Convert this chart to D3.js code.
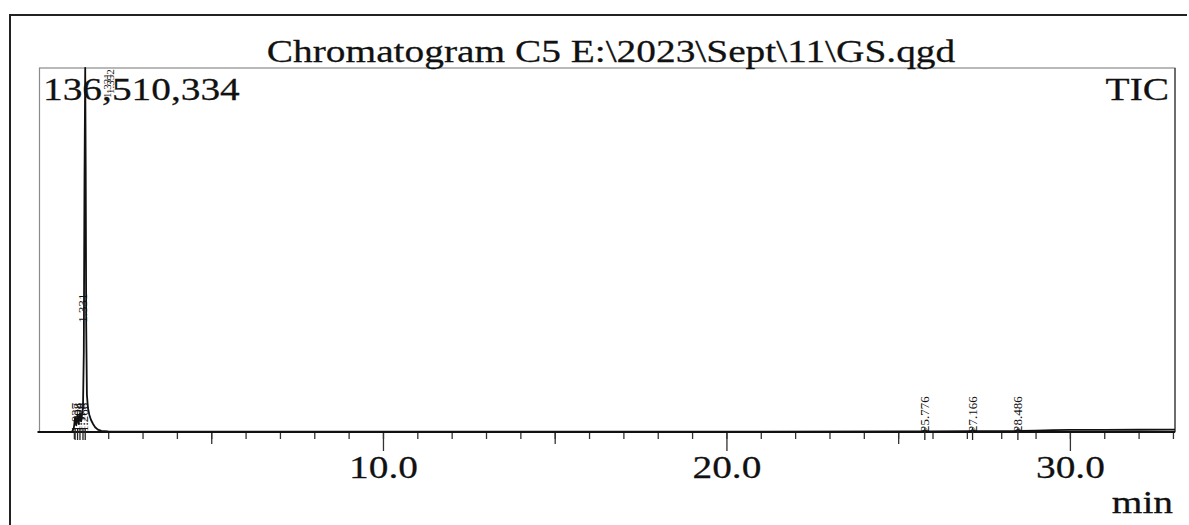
<!DOCTYPE html>
<html>
<head>
<meta charset="utf-8">
<script src="https://cdn.jsdelivr.net/npm/d3@7"></script>
<style>
  html, body { margin: 0; padding: 0; background: #fff; }
  svg { display: block; }
  text { font-family: "Liberation Serif", "Times New Roman", serif; fill: #111; }
</style>
</head>
<body>
<svg id="chart" width="1189" height="525"></svg>
<script>
// Total ion chromatogram, retention time (min) vs. intensity (counts)
const retentionTimes = [
  0.00, 0.95, 1.00, 1.037, 1.07, 1.108, 1.14, 1.178, 1.21, 1.266, 1.29, 1.31,
  1.331, 1.345, 1.36, 1.38, 1.41, 1.45, 1.50, 1.56, 1.62, 1.70, 1.80, 2.00,
  2.50, 5.00, 10.00, 15.00, 20.00, 25.00, 25.70, 25.776, 25.85, 27.10, 27.166,
  27.24, 28.40, 28.486, 28.57, 29.00, 29.50, 30.00, 31.00, 32.00, 33.06
];
const intensities = [
  50000, 100000, 1500000, 5500000, 2500000, 6500000, 3000000, 7000000, 4000000,
  9000000, 30000000, 95000000, 136510334, 100000000, 40000000, 14000000, 9000000,
  6500000, 4500000, 3000000, 1800000, 900000, 400000, 200000, 120000, 100000,
  100000, 100000, 150000, 200000, 250000, 600000, 250000, 300000, 700000, 300000,
  350000, 800000, 400000, 500000, 700000, 800000, 800000, 850000, 900000
];

// Integrated peaks (retention time labels)
const peakTimes = [1.037, 1.108, 1.178, 1.266, 1.331, 25.776, 27.166, 28.486];
const apexLabels = ["1.331", "1.352"];

const minorTicks = d3.range(1, 34);
const midTicks = [5, 15, 25];
const majorTicks = [10, 20, 30];

const titleText = "Chromatogram C5 E:\\2023\\Sept\\11\\GS.qgd";
const maxText = "136,510,334";
const traceText = "TIC";
const unitText = "min";

const svg = d3.select("#chart");
const plot = { left: 39.5, right: 1175, top: 68, bottom: 432 };
const SX = 1.27; // horizontal stretch of the printed lettering

const x = d3.scaleLinear().domain([0, 33.06]).range([plot.left, plot.right]);
const yMax = d3.max(intensities);
const y = d3.scaleLinear().domain([0, yMax]).range([plot.bottom, plot.top]);

// outer page frame
svg.append("path")
  .attr("d", "M10,530 L10,15 L1187,15")
  .attr("fill", "none").attr("stroke", "#222").attr("stroke-width", 2);

// plot frame
svg.append("rect")
  .attr("x", plot.left).attr("y", plot.top)
  .attr("width", plot.right - plot.left).attr("height", plot.bottom - plot.top)
  .attr("fill", "none").attr("stroke", "#8a8a8a").attr("stroke-width", 1.2);
svg.append("line")
  .attr("x1", plot.right).attr("x2", plot.right)
  .attr("y1", plot.top).attr("y2", plot.bottom)
  .attr("stroke", "#555").attr("stroke-width", 1.5);

function stretched(sel, px, py, anchor, size) {
  return sel.append("text")
    .attr("transform", `translate(${px},${py}) scale(${SX},1)`)
    .attr("text-anchor", anchor)
    .attr("font-size", size)
    .attr("stroke", "#111").attr("stroke-width", 0.25);
}

stretched(svg, 611, 62, "middle", 31).text(titleText);
stretched(svg, 43, 100, "start", 31).text(maxText);
stretched(svg, 1169, 100, "end", 31).text(traceText);
stretched(svg, 1173, 513, "end", 31).text(unitText);

// time axis: minor, 5-min and 10-min ticks
const axisG = svg.append("g").attr("transform", `translate(0,${plot.bottom})`);
function tickLayer(values, size, labels) {
  const g = axisG.append("g").call(
    d3.axisBottom(x).tickValues(values).tickSize(size)
      .tickFormat(labels ? d3.format(".1f") : () => "")
  );
  g.select(".domain").remove();
  g.selectAll(".tick line").attr("stroke", "#333").attr("stroke-width", 1.3);
  return g;
}
tickLayer(minorTicks, 7, false);
tickLayer(midTicks, 12, false);
const maj = tickLayer(majorTicks, 19, true);
maj.selectAll(".tick text")
  .attr("y", 46).attr("dy", 0)
  .attr("font-size", 31)
  .attr("transform", `scale(${SX},1)`)
  .attr("stroke", "#111").attr("stroke-width", 0.25)
  .style("font-family", "'Liberation Serif', 'Times New Roman', serif")
  .attr("fill", "#111");

axisG.append("line")
  .attr("x1", plot.left - 2).attr("x2", plot.right)
  .attr("stroke", "#111").attr("stroke-width", 2);

// chromatogram trace
const points = retentionTimes.map((t, i) => [t, intensities[i]]);
svg.append("path")
  .datum(points)
  .attr("fill", "none")
  .attr("stroke", "#111")
  .attr("stroke-width", 1.8)
  .attr("stroke-linejoin", "round")
  .attr("d", d3.line().x(d => x(d[0])).y(d => y(d[1])));

// peak marks and retention-time labels
const intensityAt = t => intensities[retentionTimes.indexOf(t)];
peakTimes.forEach(t => {
  const px = x(t);
  svg.append("line")
    .attr("x1", px).attr("x2", px)
    .attr("y1", plot.bottom - 4).attr("y2", plot.bottom + 8)
    .attr("stroke", "#222").attr("stroke-width", 1.3);
  const level = intensityAt(t) > 0.5 * yMax ? 0.3 * yMax : 0;
  svg.append("text")
    .attr("transform", `translate(${px - (level ? 3 : 0)},${y(level)}) rotate(-90)`)
    .attr("dy", "0.35em")
    .attr("font-size", 13)
    .attr("text-anchor", "start")
    .text(d3.format(".3f")(t));
});

// labels stacked at the top of the off-scale main peak
apexLabels.forEach((s, i) => {
  svg.append("text")
    .attr("transform", `translate(${x(1.331) + 22 + i * 3},${y(yMax) + 30 - i * 4}) rotate(-90)`)
    .attr("dy", "0.35em")
    .attr("font-size", 11)
    .attr("fill", "#444")
    .text(s);
});
</script>
</body>
</html>
